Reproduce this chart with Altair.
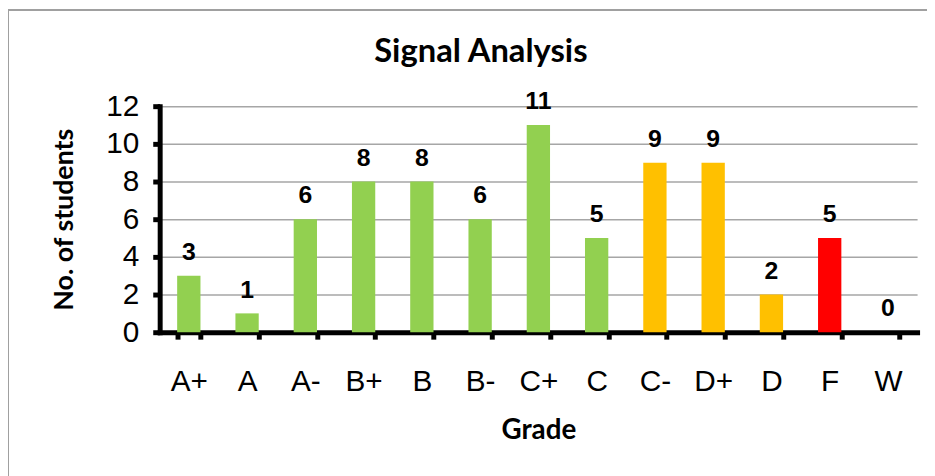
import altair as alt
import pandas as pd

grades = ["A+", "A", "A-", "B+", "B", "B-", "C+", "C", "C-", "D+", "D", "F", "W"]
students = [3, 1, 6, 8, 8, 6, 11, 5, 9, 9, 2, 5, 0]
groups = ["good", "good", "good", "good", "good", "good", "good", "good",
          "warn", "warn", "warn", "fail", "none"]
y_ticks = [0, 2, 4, 6, 8, 10, 12]

group_domain = ["good", "warn", "fail", "none"]
group_colors = ["#92D050", "#FFC000", "#FF0000", "#FFFFFF"]

df = pd.DataFrame({"Grade": grades, "Students": students, "Group": groups})

x = alt.X("Grade:N", sort=grades,
          scale=alt.Scale(paddingInner=0.6, paddingOuter=0.3),
          axis=alt.Axis(title="Grade", labelAngle=0, labelFont="Liberation Sans",
                        labelFontSize=30, labelColor="#000000", labelPadding=28,
                        ticks=True, tickBand="extent", grid=False, titleFont="Lato",
                        titleFontSize=28, titleFontWeight="bold",
                        titleColor="#000000", titlePadding=20))
y = alt.Y("Students:Q", scale=alt.Scale(domain=[0, 12], nice=False),
          axis=alt.Axis(title="No. of students", values=y_ticks, tickCount=7,
                        labelOverlap=False, labelFont="Liberation Sans",
                        labelFontSize=30, labelColor="#000000", labelPadding=14,
                        grid=True, gridColor="#A6A6A6", gridWidth=1.5,
                        titleFont="Lato", titleFontSize=27, titleFontWeight="bold",
                        titleColor="#000000", titlePadding=28))

bars = alt.Chart(df).mark_bar().encode(
    x=x, y=y,
    color=alt.Color("Group:N", scale=alt.Scale(domain=group_domain, range=group_colors),
                    legend=None),
)

labels = alt.Chart(df).mark_text(
    font="Liberation Sans", fontSize=25, fontWeight="bold", color="#000000",
    baseline="alphabetic", dy=-16,
).encode(x=alt.X("Grade:N", sort=grades), y="Students:Q", text="Students:Q")

border = alt.Chart(pd.DataFrame({"a": [0]})).mark_rect(
    fill=None, stroke="#A0A0A0", strokeWidth=2, clip=False
).encode(x=alt.value(-153), x2=alt.value(1200), y=alt.value(-97), y2=alt.value(700))

chart = alt.layer(border, bars, labels).properties(
    width=764, height=228,
    title=alt.TitleParams("Signal Analysis", font="Lato", fontSize=33,
                          fontWeight="bold", color="#000000", anchor="middle",
                          frame="group", dx=-58, offset=-60),
    autosize=alt.AutoSizeParams(type="none"),
    padding={"left": 153, "top": 97, "right": 10, "bottom": 143},
).configure_view(stroke=None).configure_axis(
    domainColor="#000000", domainWidth=5, domainCap="square",
    tickColor="#000000", tickWidth=5, tickSize=7,
)

chart.save("out.html", embed_options={"renderer": "svg", "actions": False})
